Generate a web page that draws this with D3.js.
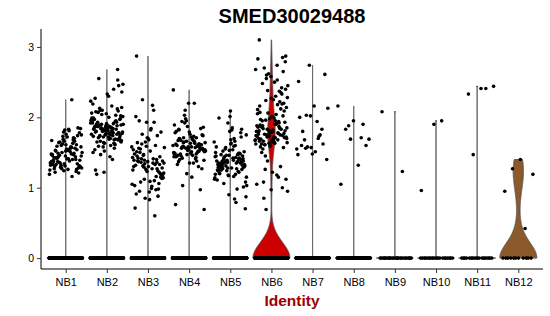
<!DOCTYPE html>
<html>
<head>
<meta charset="utf-8">
<script src="https://cdn.jsdelivr.net/npm/d3@7/dist/d3.min.js"></script>
<style>
  body { margin: 0; background: #fff; }
  text { font-family: "Liberation Sans", Arial, sans-serif; }
</style>
</head>
<body>
<div id="chart"></div>
<script>
// gene + identities
const title = "SMED30029488"
const xLabel = "Identity"
const groups = ["NB1", "NB2", "NB3", "NB4", "NB5", "NB6", "NB7", "NB8", "NB9", "NB10", "NB11", "NB12"]
const yTicks = [0, 1, 2, 3]

// expression of the cells that are not zero, per identity
const nb1 = [1.52, 1.38, 1.71, 1.29, 1.45, 1.83, 1.33, 1.61, 1.24, 1.48, 1.57, 1.36, 1.78, 1.41, 1.27, 1.66, 1.50, 1.19, 1.55, 1.42,
  1.74, 1.31, 1.47, 1.63, 1.35, 1.84, 1.26, 1.53, 1.40, 1.69, 1.32, 1.58, 1.44, 1.21, 1.76, 1.37, 1.49, 1.60, 1.28, 1.81,
  1.43, 1.54, 1.34, 1.67, 1.16, 1.46, 1.39, 1.72, 1.30, 1.56, 1.62, 1.25, 1.51, 1.37, 1.85, 1.45, 1.33, 1.68, 1.29, 1.58,
  1.41, 1.52, 1.23, 1.79, 1.36, 1.48, 1.64, 1.31, 1.55, 1.43, 1.70, 1.27, 1.50, 1.38, 1.59, 1.34, 1.82, 1.46, 1.40, 1.65,
  1.30, 1.53, 1.22, 1.44, 1.73, 1.35, 1.57, 1.49, 1.28, 1.61, 1.39, 1.47, 1.32, 1.75, 1.54, 1.42, 1.26, 1.66, 1.37, 2.25]
const nb2 = [2.68, 1.82, 1.95, 1.74, 2.10, 1.66, 1.88, 1.79, 2.03, 1.58, 1.92, 1.85, 1.71, 2.45, 1.77, 1.99, 1.63, 1.84, 2.14, 1.69,
  1.90, 1.76, 1.52, 2.06, 1.81, 1.73, 1.97, 2.33, 1.87, 1.61, 1.80, 2.01, 1.75, 1.93, 1.68, 1.86, 2.19, 1.78, 1.47, 1.89,
  1.72, 2.08, 1.83, 1.64, 1.96, 1.79, 2.55, 1.70, 1.91, 1.84, 1.56, 2.04, 1.77, 1.87, 1.65, 2.12, 1.81, 1.94, 1.40, 1.74,
  1.98, 1.86, 2.27, 1.69, 1.83, 1.90, 1.60, 2.07, 1.78, 1.88, 1.73, 2.40, 1.85, 1.67, 2.00, 1.80, 1.93, 1.22, 1.76, 2.16,
  1.89, 1.71, 1.82, 1.97, 1.62, 2.10, 1.79, 1.44, 1.87, 2.53, 1.75, 1.92, 1.84, 1.66, 2.02, 1.81, 1.25, 1.95, 1.72, 2.23,
  1.86, 1.59, 1.78, 2.05, 1.83, 1.68, 1.90, 2.36, 1.77, 1.19, 1.88, 1.63, 1.99, 1.80, 2.13, 1.74, 1.85, 1.54, 1.94, 1.82,
  2.47, 1.70, 1.87, 2.09, 1.76, 1.50, 1.91, 1.84, 1.65, 2.30]
const nb3 = [2.87, 1.36, 1.12, 1.58, 1.27, 0.95, 1.44, 1.71, 1.03, 1.33, 2.25, 1.19, 1.52, 1.38, 0.88, 1.65, 1.25, 1.41, 1.08, 1.79,
  1.30, 2.01, 1.16, 1.47, 1.35, 0.99, 1.56, 1.22, 1.93, 1.39, 1.10, 1.62, 1.28, 0.83, 1.45, 1.74, 1.34, 1.05, 2.17, 1.50,
  1.20, 1.37, 0.71, 1.60, 1.31, 1.14, 1.82, 1.42, 0.98, 1.26, 1.54, 2.10, 1.36, 1.17, 1.68, 0.91, 1.40, 1.29, 1.57, 1.02,
  1.95, 1.33, 1.23, 1.48, 0.60, 1.76, 1.38, 1.09, 1.64, 1.24, 0.85, 1.43, 1.35, 1.55, 1.15, 1.70, 1.32, 0.97, 1.46, 1.21,
  1.84, 1.37, 1.06, 1.59, 1.30, 1.93, 1.41, 1.13, 0.94, 1.51, 1.27, 1.39]
const nb4 = [1.55, 1.62, 1.48, 1.71, 1.39, 1.58, 1.83, 1.52, 1.66, 1.44, 2.20, 1.57, 1.75, 1.35, 1.60, 1.50, 1.92, 1.64, 1.46, 1.69,
  0.97, 1.53, 1.78, 1.41, 1.59, 1.86, 1.49, 1.67, 1.30, 1.56, 2.39, 1.73, 1.45, 1.61, 1.54, 1.80, 1.38, 1.65, 1.51, 1.15,
  1.70, 1.57, 1.47, 1.89, 1.63, 1.42, 1.55, 1.76, 1.33, 1.60, 2.10, 1.52, 1.68, 1.48, 1.84, 1.58, 0.76, 1.43, 1.64, 1.53,
  1.72, 1.37, 1.62, 1.95, 1.50, 1.66, 1.56, 1.27, 1.79, 1.45, 1.59, 2.03, 1.54, 1.69, 1.40, 1.61, 1.87, 1.49, 1.57, 1.03,
  1.74, 1.63, 1.46, 1.52, 1.98, 1.60, 1.35, 1.67, 1.55, 2.20, 1.44, 1.71, 1.58, 0.69, 1.51, 1.82, 1.62, 1.20, 1.48, 1.65,
  1.94, 1.56]
const nb5 = [1.35, 1.28, 1.44, 1.19, 1.52, 1.38, 1.62, 1.24, 1.41, 1.31, 1.75, 1.16, 1.47, 1.36, 0.90, 1.58, 1.27, 1.43, 1.33, 1.82,
  1.21, 1.49, 1.39, 1.12, 1.66, 1.30, 1.45, 2.01, 1.25, 1.37, 1.55, 1.08, 1.42, 1.32, 1.78, 1.18, 1.50, 0.79, 1.40, 1.29,
  1.63, 1.35, 1.22, 1.46, 1.03, 1.70, 1.34, 1.26, 1.53, 1.38, 0.98, 1.44, 1.31, 1.85, 1.20, 1.48, 1.36, 1.14, 1.60, 1.27,
  1.41, 2.09, 1.33, 1.23, 1.57, 0.87, 1.39, 1.30, 1.72, 1.17, 1.45, 1.35, 1.06, 1.51, 1.28, 1.99, 1.42, 1.24, 1.65, 0.84,
  1.37, 1.32, 1.80, 1.11, 1.47, 1.36, 0.70, 1.54, 1.26, 1.40, 1.92, 1.19, 1.43, 1.34, 1.01, 1.68, 1.29, 1.49, 1.38, 1.15,
  1.59, 1.25, 1.83, 1.46]
const nb6 = [3.10, 1.85, 1.72, 2.28, 1.63, 1.95, 2.85, 1.78, 2.05, 1.68, 1.26, 2.40, 1.82, 1.58, 2.12, 1.74, 2.68, 1.90, 1.66, 2.20,
  0.97, 1.79, 1.87, 2.55, 1.70, 1.99, 1.62, 2.33, 1.80, 1.05, 2.74, 1.76, 1.93, 1.65, 2.16, 1.84, 1.38, 2.45, 1.71, 1.88,
  2.02, 1.60, 2.83, 1.77, 1.96, 1.12, 2.25, 1.69, 1.83, 2.62, 1.74, 1.91, 0.85, 2.09, 1.67, 1.81, 2.37, 1.75, 1.64, 2.50,
  1.86, 1.00, 1.98, 1.73, 2.18, 1.61, 2.79, 1.79, 1.89, 1.30, 2.06, 1.68, 2.30, 1.84, 1.57, 2.58, 1.76, 1.94, 0.69, 2.14,
  1.72, 1.87, 2.42, 1.63, 1.80, 1.18, 2.70, 1.71, 2.01, 1.66, 2.22, 1.83, 0.95, 1.90, 2.48, 1.74, 1.59, 2.11, 1.78, 1.45,
  2.87, 1.69, 1.97, 2.35, 1.82, 1.62, 2.04, 1.08, 1.77, 2.27, 1.70, 1.92, 2.60, 1.85, 1.65, 1.50, 2.19, 1.73, 1.88, 2.53,
  1.61, 1.81, 1.22, 2.07, 1.75, 2.38, 1.67, 1.95, 1.55, 2.65, 1.79, 1.86, 1.15, 2.24, 1.72]
const nb7 = [1.57, 2.51, 1.73, 2.03, 1.40, 2.16, 1.60, 1.83, 2.74, 1.55, 1.94, 1.68, 2.61, 1.48, 2.00, 1.75, 1.58, 2.13, 1.51, 1.80,
  1.62, 2.02, 1.47, 1.70, 1.56]
const nb8 = [1.90, 1.69, 2.16, 1.32, 1.83, 1.60, 1.95, 1.05, 1.71, 1.88, 1.69]
const nb9 = [2.08, 1.23]
const nb10 = [1.90, 0.96, 1.95]
const nb11 = [2.41, 1.47, 2.44, 2.41, 2.33]
const nb12 = [0.95, 0.42, 1.27, 1.19, 1.40]

// how many cells sit at 0 in each identity
const zeroCounts = [700, 650, 600, 650, 600, 370, 320, 160, 25, 20, 18, 11]

const fills = ["#b0b0b0", "#b0b0b0", "#b0b0b0", "#b0b0b0", "#b0b0b0", "#cc0000",
  "#b0b0b0", "#b0b0b0", "#b0b0b0", "#b0b0b0", "#b0b0b0", "#8b5a2b"]

const nonZero = [nb1, nb2, nb3, nb4, nb5, nb6, nb7, nb8, nb9, nb10, nb11, nb12]

const width = 550, height = 316
const marginLeft = 41, marginRight = 7, marginTop = 29, marginBottom = 47

// full data per identity
const data = groups.map((g, i) => ({
  group: g,
  fill: fills[i],
  values: nonZero[i].concat(d3.range(zeroCounts[i]).map(() => 0))
}))

// bandwidth like R's bw.nrd0 ; Seurat adds a ~1e-5 noise so a zero IQR gives a tiny bandwidth
function nrd0(v) {
  const s = v.slice().sort(d3.ascending)
  const sd = d3.deviation(s)
  const iqr = d3.quantile(s, 0.75) - d3.quantile(s, 0.25)
  let lo = Math.min(sd, iqr / 1.34)
  if (!lo) lo = 1e-5
  return 0.9 * lo * Math.pow(s.length, -0.2)
}

function violinDensity(v) {
  const bw = nrd0(v)
  const [lo, hi] = d3.extent(v)
  const grid = d3.range(512).map(k => lo + (hi - lo) * k / 511)
  const dens = grid.map(t => {
    let sum = 0
    for (const x of v) {
      const z = (t - x) / bw
      if (z > -9 && z < 9) sum += Math.exp(-0.5 * z * z)
    }
    return sum / (v.length * bw * Math.sqrt(2 * Math.PI))
  })
  const m = d3.max(dens)
  return grid.map((t, k) => [t, dens[k] / m])  // scale = "width"
}

const allVals = data.flatMap(d => d.values)
const yMax = d3.max(allVals), yMin = d3.min(allVals)
const pad = (yMax - yMin) * 0.05

const x = d3.scalePoint()
  .domain(groups)
  .range([marginLeft, width - marginRight])
  .padding(0.6)
const step = x.step()

const y = d3.scaleLinear()
  .domain([yMin - pad, yMax + pad])
  .range([height - marginBottom, marginTop])

const svg = d3.select("#chart").append("svg")
  .attr("width", width)
  .attr("height", height)
  .attr("viewBox", [0, 0, width, height])

// violins
data.forEach(d => {
  const cx = x(d.group)
  const half = 0.9 * step / 2
  const area = d3.area()
    .x0(p => cx - p[1] * half)
    .x1(p => cx + p[1] * half)
    .y(p => y(p[0]))
  svg.append("path")
    .attr("d", area(violinDensity(d.values)))
    .attr("fill", d.fill)
    .attr("stroke", "#555")
    .attr("stroke-width", 0.9)
    .attr("stroke-linejoin", "round")
})

// jittered cells (quasi random spread, +-0.4 of the step like geom_jitter)
const phi = 0.6180339887
data.forEach((d, gi) => {
  const cx = x(d.group)
  svg.append("g")
    .selectAll("circle")
    .data(d.values)
    .join("circle")
    .attr("cx", (v, i) => cx + (((0.5 + (i + gi * 7) * phi) % 1) - 0.5) * 0.8 * step)
    .attr("cy", v => y(v))
    .attr("r", 1.8)
    .attr("fill", "#000")
})

// axes
const xAxis = d3.axisBottom(x).tickSize(4).tickSizeOuter(0)
const yAxis = d3.axisLeft(y).tickValues(yTicks).tickFormat(d3.format("d")).tickSize(4).tickSizeOuter(0)

svg.append("g")
  .attr("transform", `translate(0,${height - marginBottom})`)
  .call(xAxis)
  .call(g => g.select(".domain").attr("d", `M${marginLeft},0H${width - marginRight}`).attr("stroke", "#000"))
  .call(g => g.selectAll(".tick line").attr("stroke", "#333"))
  .call(g => g.selectAll(".tick text").attr("dy", null).attr("y", 17)
    .attr("font-size", 11).attr("fill", "#000").attr("font-family", null))

svg.append("g")
  .attr("transform", `translate(${marginLeft},0)`)
  .call(yAxis)
  .call(g => g.select(".domain").attr("d", `M0,${marginTop}V${height - marginBottom}`).attr("stroke", "#000"))
  .call(g => g.selectAll(".tick line").attr("stroke", "#333"))
  .call(g => g.selectAll(".tick text").attr("x", -7)
    .attr("font-size", 10.5).attr("fill", "#000").attr("font-family", null))

svg.append("text")
  .attr("x", (marginLeft + width - marginRight) / 2)
  .attr("y", 23)
  .attr("text-anchor", "middle")
  .attr("font-size", 20)
  .attr("font-weight", "bold")
  .text(title)

svg.append("text")
  .attr("x", (marginLeft + width - marginRight) / 2)
  .attr("y", 306)
  .attr("text-anchor", "middle")
  .attr("font-size", 15.5)
  .attr("font-weight", "bold")
  .attr("fill", "#a00000")
  .text(xLabel)
</script>
</body>
</html>
